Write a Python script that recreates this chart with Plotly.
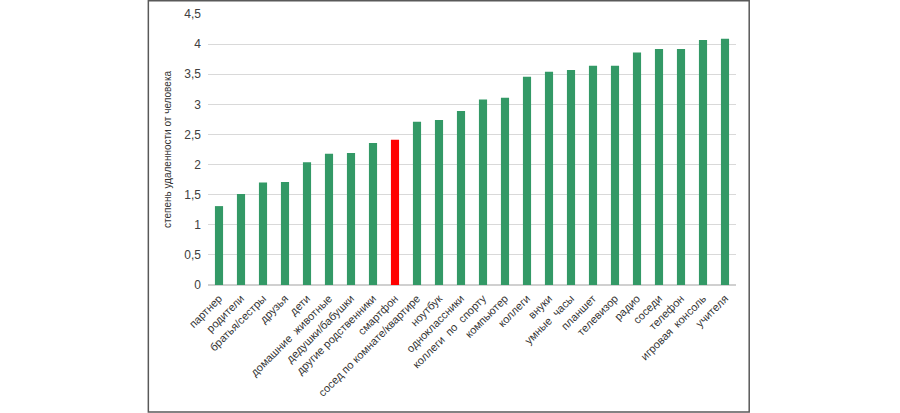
import plotly.graph_objects as go

categories = ["партнер", "родители", "братья/сестры", "друзья", "дети",
              "домашние  животные", "дедушки/бабушки", "другие родственники",
              "смартфон", "сосед по комнате/квартире", "ноутбук", "одноклассники",
              "коллеги  по  спорту", "компьютер", "коллеги", "внуки", "умные  часы",
              "планшет", "телевизор", "радио", "соседи", "телефон",
              "игровая  консоль", "учителя"]
values = [1.31, 1.51, 1.70, 1.71, 2.04, 2.18, 2.19, 2.36, 2.41, 2.71, 2.74, 2.89,
          3.08, 3.11, 3.46, 3.54, 3.57, 3.64, 3.64, 3.86, 3.92, 3.92, 4.07, 4.09]
highlight = "смартфон"
y_title = "степень удаленности от человека"

labels = [c.replace("  ", "\u00a0 ") for c in categories]
colors = ["#ff0000" if c == highlight else "#339966" for c in categories]

fig = go.Figure(go.Bar(x=labels, y=values, marker_color=colors,
                       marker_line_width=0, width=0.37))

fig.update_layout(
    width=900, height=413,
    margin=dict(l=208, r=164, t=14, b=128, autoexpand=False),
    paper_bgcolor="white", plot_bgcolor="white",
    separators=", ",
    font=dict(family="Liberation Sans, Arial, sans-serif", color="#404040"),
    showlegend=False,
)
fig.update_yaxes(range=[0, 4.5], dtick=0.5, showgrid=True, gridcolor="#d9d9d9",
                 gridwidth=1, zeroline=True, zerolinecolor="#d0d0d0",
                 tickfont=dict(size=12, color="#404040"), ticks="",
                 ticklabelstandoff=6, automargin=False,
                 title=dict(text=y_title,
                            font=dict(size=10, color="#333333",
                                      family="Liberation Sans Narrow, Arial Narrow, sans-serif"),
                            standoff=10),
                 showline=False)
fig.update_xaxes(tickangle=-45, tickfont=dict(size=11, color="#333333"),
                 showline=False, ticks="", automargin=False, ticklabelstandoff=4,
                 range=[-0.5, len(categories) - 0.5])

fig.add_shape(type="rect", xref="paper", yref="paper",
              x0=-0.113, x1=1.025, y0=-0.469, y1=1.049,
              line=dict(color="#595959", width=1.5), fillcolor="rgba(0,0,0,0)")

fig.write_html("out.html", config={"displayModeBar": False},
               post_script="document.body.style.margin='0';document.body.style.overflow='hidden';")
